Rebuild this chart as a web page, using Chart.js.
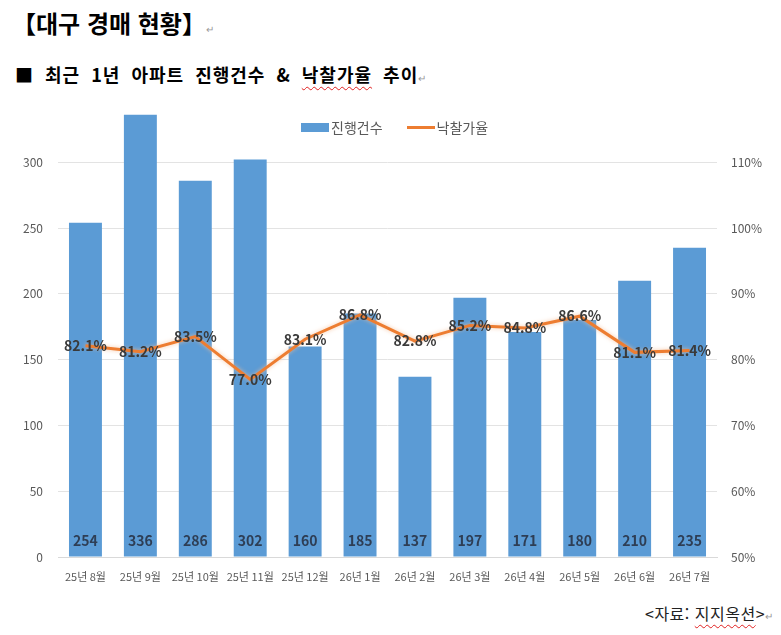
<!DOCTYPE html>
<html lang="ko">
<head>
<meta charset="utf-8">
<script src="https://cdn.jsdelivr.net/npm/chart.js@4.4.1/dist/chart.umd.min.js"></script>
<style>
  body { margin: 0; background: #fff; font-family: "Noto Sans CJK KR", "Noto Sans", sans-serif; }
  #page { position: relative; width: 781px; height: 635px; overflow: hidden; }
  .mark { color: #999; font-size: 10px; font-weight: normal; letter-spacing: 0; }
  #title { position: absolute; left: 12px; top: 5px; font-size: 24px; font-weight: bold; color: #000; }
  #subtitle { position: absolute; left: 15px; top: 61px; font-size: 18px; font-weight: bold; color: #000; word-spacing: 5px; letter-spacing: 1px; }
  .squig { text-decoration: underline wavy #e02020; text-decoration-thickness: 1px; text-underline-offset: 4px; }
  #wrap { position: absolute; left: 0; top: 90px; width: 781px; height: 510px; }
  #legend { position: absolute; top: 117px; left: 301px; display: flex; align-items: center; font-size: 14px; color: #595959; }
  #legend .item { display: flex; align-items: center; margin-right: 24px; }
  #legend .sw { display: inline-block; margin-right: 2px; }
  #source { position: absolute; left: 645px; top: 601px; font-size: 16px; letter-spacing: 0.5px; color: #222; }
</style>
</head>
<body>
<div id="page">
  <div id="title">【대구 경매 현황】<span class="mark">↵</span></div>
  <div id="subtitle">■ 최근 1년 아파트 진행건수 &amp; <span class="squig">낙찰가율</span> 추이<span class="mark">↵</span></div>
  <div id="wrap"><canvas id="myChart"></canvas></div>
  <div id="legend"></div>
  <div id="source">&lt;자료: <span class="squig">지지옥션</span>&gt;<span class="mark">↵</span></div>
</div>
<script>
// 월별 데이터
const months = ['25년 8월', '25년 9월', '25년 10월', '25년 11월', '25년 12월', '26년 1월',
                '26년 2월', '26년 3월', '26년 4월', '26년 5월', '26년 6월', '26년 7월'];
const caseCounts = [254, 336, 286, 302, 160, 185, 137, 197, 171, 180, 210, 235];
const bidRates = [82.1, 81.2, 83.5, 77.0, 83.1, 86.8, 82.8, 85.2, 84.8, 86.6, 81.1, 81.4];
const leftTicks = [0, 50, 100, 150, 200, 250, 300];
const rightTicks = [50, 60, 70, 80, 90, 100, 110];

const BLUE = '#5B9BD5';
const ORANGE = '#ED7D31';
const FONT = '"Noto Sans CJK KR", "Noto Sans", sans-serif';

// 선에 옅은 광선 효과
const lineGlow = {
  id: 'lineGlow',
  beforeDatasetDraw(chart, args) {
    if (args.index !== 0) return;
    chart.ctx.save();
    chart.ctx.shadowColor = 'rgba(245,190,150,0.8)';
    chart.ctx.shadowBlur = 4;
  },
  afterDatasetDraw(chart, args) {
    if (args.index !== 0) return;
    chart.ctx.restore();
  }
};

// 막대 아래쪽 / 선 위에 값 표시
const valueLabels = {
  id: 'valueLabels',
  afterDatasetsDraw(chart) {
    const ctx = chart.ctx;
    const bottom = chart.scales.y.getPixelForValue(0);
    ctx.save();
    ctx.textAlign = 'center';
    ctx.textBaseline = 'middle';
    ctx.font = 'bold 14px ' + FONT;
    ctx.fillStyle = '#2E3E55';
    chart.getDatasetMeta(1).data.forEach((bar, i) => {
      ctx.fillText(caseCounts[i], bar.x, bottom - 16);
    });
    ctx.font = 'bold 14px ' + FONT;
    ctx.fillStyle = '#3A3A3A';
    chart.getDatasetMeta(0).data.forEach((pt, i) => {
      ctx.fillText(bidRates[i].toFixed(1) + '%', pt.x, pt.y);
    });
    ctx.restore();
  }
};

const ctx = document.getElementById('myChart').getContext('2d');

const config = {
  data: {
    labels: months,
    datasets: [
      {
        type: 'line',
        label: '낙찰가율',
        data: bidRates,
        yAxisID: 'y2',
        borderColor: ORANGE,
        backgroundColor: ORANGE,
        borderWidth: 3,
        pointRadius: 0,
        tension: 0,
        order: 0
      },
      {
        type: 'bar',
        label: '진행건수',
        data: caseCounts,
        yAxisID: 'y',
        backgroundColor: BLUE,
        categoryPercentage: 1.0,
        barPercentage: 0.6,
        order: 1
      }
    ]
  },
  options: {
    responsive: true,
    maintainAspectRatio: false,
    animation: false,
    layout: { padding: { top: 4, left: 0, right: 0, bottom: 0 } },
    plugins: {
      legend: { display: false },
      tooltip: { enabled: false }
    },
    scales: {
      x: {
        grid: { display: false, drawTicks: false },
        border: { color: '#D9D9D9' },
        ticks: { color: '#595959', font: { family: FONT, size: 11 }, padding: 13, maxRotation: 0, autoSkip: false },
        afterFit: (axis) => { axis.height = 43; }
      },
      y: {
        position: 'left',
        min: 0,
        max: 338,
        grid: { color: '#E3E3E3', drawTicks: false },
        border: { display: false },
        ticks: { color: '#595959', font: { family: FONT, size: 12 }, padding: 15 },
        afterBuildTicks: (axis) => { axis.ticks = leftTicks.map(v => ({ value: v })); },
        afterFit: (axis) => { axis.width = 58; }
      },
      y2: {
        position: 'right',
        min: 50,
        max: 117.6,
        grid: { display: false, drawTicks: false },
        border: { display: false },
        ticks: { color: '#595959', font: { family: FONT, size: 12 }, padding: 14, callback: (v) => v + '%' },
        afterBuildTicks: (axis) => { axis.ticks = rightTicks.map(v => ({ value: v })); },
        afterFit: (axis) => { axis.width = 64; }
      }
    }
  },
  plugins: [lineGlow, valueLabels]
};

const myChart = new Chart(ctx, config);

// 범례 (그래프 영역 위에 겹쳐 표시)
const legend = document.getElementById('legend');
[['진행건수', BLUE, 'box'], ['낙찰가율', ORANGE, 'line']].forEach(([name, color, kind]) => {
  const item = document.createElement('span');
  item.className = 'item';
  const sw = document.createElement('span');
  sw.className = 'sw';
  sw.style.width = '28px';
  sw.style.height = kind === 'box' ? '9px' : '3px';
  sw.style.background = color;
  item.appendChild(sw);
  item.appendChild(document.createTextNode(name));
  legend.appendChild(item);
});
</script>
</body>
</html>
